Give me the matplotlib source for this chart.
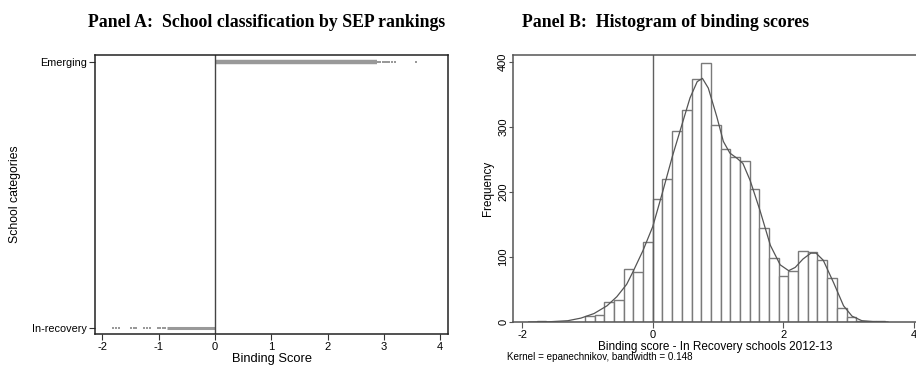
import numpy as np
import matplotlib
matplotlib.use("Agg")
import matplotlib.pyplot as plt

plt.rcParams['font.family'] = ['Liberation Sans', 'DejaVu Sans']

# Panel A: school categories by binding score
category_labels = ['In-recovery', 'Emerging']
emerging_dense = [0.0, 2.88]
emerging_scatter = [2.90, 2.94, 2.98, 3.02, 3.06, 3.10, 3.15, 3.20, 3.57]
recovery_dense = [-0.86, 0.0]
recovery_scatter = [-1.81, -1.75, -1.70, -1.49, -1.44, -1.40,
                    -1.26, -1.20, -1.15, -1.01, -0.97, -0.93, -0.89]

# Panel B: histogram (bin width 0.148, first edge at -12 bins from 0)
bin_width = 0.1483
first_bin = -12
counts = [2, 0, 0, 0, 0, 9, 11, 31, 34, 82, 77, 123,
          190, 220, 294, 327, 374, 398, 303, 267, 254, 248, 204, 145,
          99, 71, 78, 110, 108, 96, 67, 21, 8, 2, 1, 1]

# kernel density curve (scaled to frequency)
kde_x = [-1.9, -1.6, -1.3, -1.1, -0.9, -0.7, -0.55, -0.4, -0.3, -0.15, 0.0,
         0.15, 0.3, 0.42, 0.57, 0.68, 0.76, 0.85, 0.98, 1.08, 1.18, 1.29,
         1.38, 1.49, 1.64, 1.8, 1.95, 2.08, 2.18, 2.3, 2.42, 2.5, 2.61,
         2.77, 2.92, 3.05, 3.2, 3.4, 3.6]
kde_y = [0, 0.3, 2, 6, 13, 25, 39, 58, 78, 110, 147,
         200, 255, 295, 345, 370, 375, 360, 316, 278, 260, 252,
         244, 218, 172, 118, 88, 79, 84, 97, 106, 106, 95,
         60, 25, 9, 2, 0.3, 0]

fig = plt.figure(figsize=(9.16, 3.65), dpi=100)

# ---- Panel A ----
axA = fig.add_axes([95 / 916, 31 / 365, 353 / 916, 279 / 365])
axA.hlines(1, emerging_dense[0], emerging_dense[1], color='#999999', lw=3.2)
axA.scatter(emerging_scatter, np.ones(len(emerging_scatter)), s=2,
            marker='s', color='#999999', linewidths=0)
axA.hlines(0, recovery_dense[0], recovery_dense[1], color='#999999', lw=2.2)
axA.scatter(recovery_scatter, np.zeros(len(recovery_scatter)), s=3,
            marker='s', color='#999999', linewidths=0)
axA.axvline(0, color='#444444', lw=1)
axA.set_xlim(-2.13, 4.14)
axA.set_ylim(-0.023, 1.026)
axA.set_yticks([0, 1])
axA.set_yticklabels(category_labels, fontsize=7.8)
axA.set_xticks([-2, -1, 0, 1, 2, 3, 4])
axA.set_xticklabels(['-2', '-1', '0', '1', '2', '3', '4'], fontsize=8)
axA.tick_params(length=4, width=0.8, color='#333333', pad=1.5)
axA.set_xlabel('Binding Score', fontsize=9.3, labelpad=1)
axA.set_ylabel('School categories', fontsize=8.8, labelpad=8)
for s in axA.spines.values():
    s.set_color('#222222')
    s.set_linewidth(1.1)

# ---- Panel B ----
axB = fig.add_axes([513 / 916, 43 / 365, 405 / 916, 267 / 365])
lefts = [(first_bin + i) * bin_width for i in range(len(counts))]
axB.bar(lefts, counts, width=bin_width, align='edge', color='white',
        edgecolor='#7a7a7a', linewidth=1.0)
axB.plot(kde_x, kde_y, color='#555555', lw=0.9)
axB.axvline(0, color='#606060', lw=1)
axB.set_xlim(-2.14, 4.06)
axB.set_ylim(0, 411)
axB.set_xticks([-2, 0, 2, 4])
axB.set_xticklabels(['-2', '0', '2', '4'], fontsize=8)
axB.set_yticks([0, 100, 200, 300, 400])
axB.set_yticklabels(['0', '100', '200', '300', '400'], fontsize=8,
                    rotation=90, va='center')
axB.tick_params(axis='x', length=4, width=0.8, color='#555555', pad=1.5)
axB.tick_params(axis='y', length=3, width=0.8, color='#555555', pad=0.5)
axB.set_xlabel('Binding score - In Recovery schools 2012-13', fontsize=8.5,
               labelpad=1)
axB.set_ylabel('Frequency', fontsize=8.4, labelpad=3)
for s in axB.spines.values():
    s.set_color('#555555')
    s.set_linewidth(1.1)

fig.text(507 / 916, 8 / 365, 'Kernel = epanechnikov, bandwidth = 0.148',
         fontsize=7.1, va='center', ha='left')

# titles
fig.text(267 / 916, 338 / 365, 'Panel A:  School classification by SEP rankings',
         family='Liberation Serif', weight='bold', fontsize=12.8,
         ha='center', va='baseline')
fig.text(665 / 916, 338 / 365, 'Panel B:  Histogram of binding scores',
         family='Liberation Serif', weight='bold', fontsize=12.8,
         ha='center', va='baseline')

fig.savefig('out.png', dpi=100)
